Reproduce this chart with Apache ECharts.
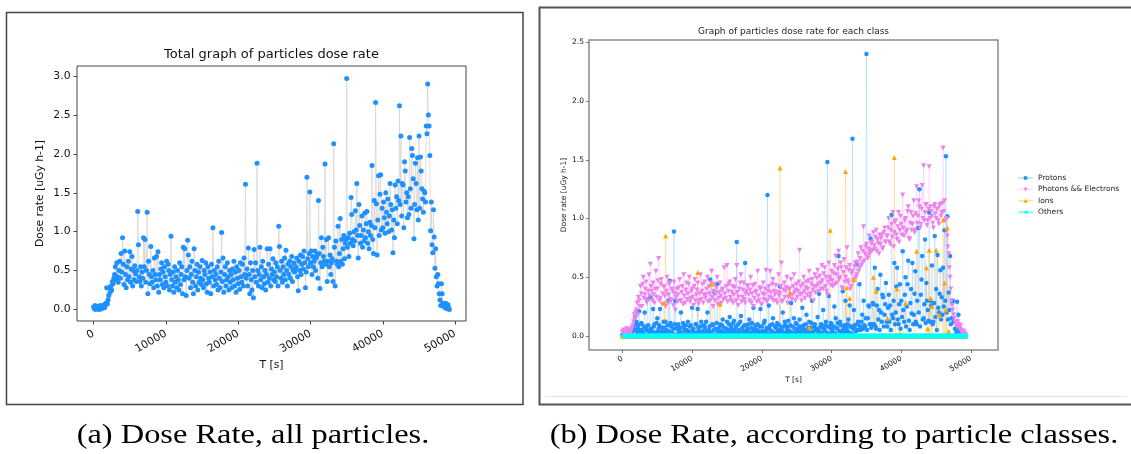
<!DOCTYPE html>
<html><head><meta charset="utf-8">
<script src="https://cdn.jsdelivr.net/npm/echarts@6.0.0/dist/echarts.min.js"></script>
<style>html,body{margin:0;padding:0;background:#fff}#c{width:1131px;height:454px}</style>
</head><body><div id="c"></div>
<script>
// ---------- data ----------
const LEFT_DT = 100;   // seconds between samples, panel (a)
const RIGHT_DT = 100;  // seconds between samples, panel (b)
const xTickValues = [0, 10000, 20000, 30000, 40000, 50000];
const yTicksLeft = [0, 0.5, 1.0, 1.5, 2.0, 2.5, 3.0];
const yTicksRight = [0, 0.5, 1.0, 1.5, 2.0, 2.5];
const titles = ['Total graph of particles dose rate', 'Graph of particles dose rate for each class'];
const captions = ['(a) Dose Rate, all particles.', '(b) Dose Rate, according to particle classes.'];
const seriesNames = ['Protons', 'Photons && Electrons', 'Ions', 'Others'];
const yName = 'Dose rate [uGy h-1]';
const xName = 'T [s]';

const totalDose = [
0.03,0.01,0.05,0.00,0.02,0.04,0.01,0.03,0.00,0.05,
0.02,0.01,0.04,0.03,0.06,0.02,0.05,0.08,0.28,0.07,
0.12,0.18,0.28,0.22,0.30,0.25,0.36,0.33,0.40,0.45,
0.55,0.38,0.60,0.42,0.35,0.50,0.62,0.40,0.72,0.48,
0.92,0.58,0.32,0.75,0.45,0.28,0.55,0.38,0.62,0.42,
0.74,0.35,0.52,0.68,0.30,0.50,0.38,0.56,0.46,0.36,
0.50,1.26,0.83,0.42,0.36,0.55,0.30,0.48,0.40,0.92,
0.55,0.90,0.35,0.50,1.25,0.20,0.62,0.45,0.33,0.81,
0.42,0.35,0.50,0.28,0.66,0.45,0.38,0.68,0.30,0.74,
0.22,0.45,0.38,0.52,0.60,0.32,0.48,0.28,0.55,0.42,
0.35,0.62,0.30,0.58,0.50,0.25,0.45,0.94,0.38,0.30,
0.48,0.22,0.55,0.35,0.42,0.28,0.50,0.38,0.25,0.60,
0.32,0.45,0.55,0.20,0.80,0.38,0.78,0.42,0.18,0.50,
0.89,0.70,0.40,0.55,0.28,0.45,0.62,0.35,0.20,0.78,
0.50,0.30,0.42,0.58,0.25,0.48,0.35,0.55,0.40,0.32,
0.63,0.38,0.28,0.50,0.45,0.60,0.33,0.22,0.55,0.40,
0.35,0.48,0.20,0.58,0.42,1.05,0.30,0.50,0.38,0.45,
0.32,0.55,0.25,0.62,0.40,0.28,0.48,0.99,0.36,0.66,
0.22,0.45,0.55,0.30,0.38,0.60,0.42,0.25,0.50,0.35,
0.45,0.28,0.52,0.38,0.62,0.30,0.48,0.22,0.55,0.40,
0.33,0.50,0.26,0.60,0.42,0.35,0.58,0.30,0.66,0.45,
1.61,0.40,0.52,0.30,0.79,0.45,0.20,0.60,0.38,0.25,
0.50,0.15,0.77,0.42,0.60,0.35,1.88,0.50,0.30,0.45,
0.80,0.38,0.55,0.28,0.62,0.42,0.33,0.50,0.25,0.45,
0.78,0.35,0.58,0.40,0.78,0.30,0.52,0.45,0.65,0.38,
0.48,0.36,0.60,0.42,0.55,0.30,1.07,0.81,0.50,0.40,
0.62,0.35,0.55,0.45,0.66,0.38,0.76,0.50,0.30,0.58,
0.45,0.62,0.40,0.55,0.68,0.36,0.50,0.60,0.48,0.52,
0.55,0.66,0.42,0.24,0.62,0.50,0.70,0.45,0.58,0.68,
0.52,0.75,0.60,0.28,0.48,1.70,0.65,0.55,0.72,1.51,
0.60,0.75,0.45,0.68,0.55,0.62,0.75,0.50,0.66,0.70,
0.40,1.40,0.72,0.27,0.60,0.92,0.55,0.80,0.68,0.62,
1.87,0.58,0.90,0.36,0.62,0.92,0.55,0.70,0.45,0.60,
0.65,0.36,2.13,0.80,0.30,0.88,0.62,0.58,1.07,0.55,
0.72,1.17,0.62,0.90,0.58,0.78,0.95,0.65,0.85,0.90,
2.97,0.80,0.92,0.68,0.98,0.85,1.44,1.22,0.90,0.82,
1.00,0.88,1.27,1.02,1.62,0.95,0.66,1.35,1.08,0.85,
0.95,1.20,0.80,1.02,0.88,1.24,0.92,1.10,1.26,0.85,
1.00,0.78,1.12,0.95,1.08,1.85,0.90,0.72,1.40,1.05,
2.66,1.36,0.70,1.15,1.72,0.95,1.48,1.73,1.02,1.30,
1.05,1.38,1.18,0.98,1.50,1.25,1.10,1.42,1.00,1.20,
1.62,1.35,1.02,1.28,0.73,1.15,0.92,1.60,1.30,1.45,
1.10,1.65,1.40,2.62,1.35,2.23,1.20,1.62,1.60,1.05,
1.90,1.78,1.38,1.50,1.18,1.45,1.22,2.21,1.55,1.30,
2.07,1.98,1.68,0.91,1.35,1.88,1.62,1.28,1.95,1.15,
2.23,1.30,1.96,1.78,1.55,1.42,1.25,1.52,1.50,1.38,
2.36,2.26,2.90,2.50,2.36,1.98,1.01,1.38,0.83,0.73,
1.28,0.93,0.53,0.78,0.42,0.30,0.45,0.33,0.20,0.12,
0.05,0.33,0.20,0.08,0.04,0.07,0.02,0.08,0.03,0.01,
0.06,0.02,0.00
];

const protons = [
0.01,0.00,0.02,0.01,0.00,0.02,0.01,0.00,0.03,0.01,0.01,0.02,0.02,0.01,0.04,0.06,0.08,0.05,0.16,0.10,
0.12,0.03,0.06,0.09,0.21,0.02,0.05,0.11,0.10,0.04,0.02,0.07,0.20,0.01,0.08,0.05,0.31,0.09,0.04,0.02,
0.33,0.06,0.05,0.02,0.23,0.08,0.10,0.03,0.02,0.11,0.15,0.04,0.06,0.09,0.23,0.01,0.03,0.07,0.04,0.12,
0.07,0.02,0.12,0.05,0.03,0.09,0.30,0.04,0.47,0.11,0.08,0.03,0.02,0.06,0.89,0.10,0.30,0.01,0.06,0.08,
0.10,0.03,0.04,0.07,0.20,0.02,0.02,0.11,0.08,0.05,0.01,0.09,0.05,0.02,0.12,0.04,0.03,0.08,0.09,0.01,
0.24,0.05,0.06,0.02,0.02,0.10,0.10,0.03,0.23,0.07,0.04,0.01,0.08,0.12,0.01,0.04,0.03,0.09,0.07,0.02,
0.12,0.04,0.20,0.02,0.05,0.08,0.48,0.03,0.02,0.10,0.09,0.05,0.37,0.01,0.06,0.11,0.44,0.04,0.03,0.07,
0.10,0.02,0.04,0.09,0.14,0.03,0.07,0.01,0.02,0.06,0.12,0.04,0.05,0.10,0.16,0.02,0.08,0.05,0.03,0.11,
0.13,0.03,0.06,0.08,0.80,0.02,0.10,0.05,0.02,0.12,0.17,0.01,0.07,0.04,0.04,0.09,0.62,0.03,0.09,0.06,
0.05,0.10,0.14,0.02,0.02,0.07,0.11,0.04,0.24,0.01,0.06,0.09,0.03,0.05,0.10,0.02,0.04,0.08,0.23,0.03,
0.08,0.04,0.02,0.11,0.13,0.03,0.05,0.07,1.20,0.02,0.26,0.06,0.09,0.01,0.04,0.10,0.15,0.03,0.02,0.08,
0.07,0.02,0.11,0.05,0.03,0.09,0.42,0.01,0.06,0.04,0.20,0.08,0.02,0.12,0.09,0.03,0.05,0.07,0.13,0.02,
0.04,0.09,0.28,0.03,0.08,0.02,0.15,0.06,0.02,0.11,0.10,0.04,0.06,0.01,0.14,0.08,0.03,0.05,0.24,0.07,
0.09,0.02,0.05,0.10,0.18,0.04,0.02,0.07,0.12,0.03,0.07,0.11,0.30,0.02,0.04,0.08,0.10,0.05,0.06,0.01,
0.16,0.04,0.36,0.07,0.03,0.10,0.08,0.02,0.22,0.06,0.05,0.09,0.12,0.03,1.48,0.08,0.34,0.02,0.07,0.11,
0.10,0.05,0.03,0.08,0.25,0.02,0.15,0.07,0.06,0.11,0.68,0.04,0.12,0.09,0.04,0.02,0.38,0.06,0.09,0.03,
0.30,0.07,0.05,0.10,0.14,0.03,0.26,0.08,0.08,0.02,1.68,0.06,0.22,0.09,0.06,0.04,0.61,0.10,0.12,0.05,
0.44,0.08,0.05,0.12,0.18,0.06,0.30,0.09,0.08,0.15,2.40,0.05,0.15,0.26,0.25,0.10,0.83,0.07,0.10,0.28,
0.27,0.10,0.58,0.08,0.06,0.26,0.40,0.14,0.22,0.05,0.52,0.20,0.12,0.35,0.33,0.08,0.18,0.27,0.45,0.12,
0.08,0.24,0.35,0.12,0.26,0.05,1.03,0.18,0.15,0.30,0.62,0.10,0.20,0.42,0.58,0.14,0.10,0.27,0.44,0.06,
0.30,0.16,0.72,0.22,0.12,0.35,0.50,0.08,0.25,0.44,0.64,0.13,0.05,0.28,0.40,0.19,0.62,0.10,0.18,0.36,
0.55,0.12,0.10,0.30,0.92,0.20,1.25,0.08,0.35,0.48,0.68,0.14,0.15,0.27,0.82,0.11,0.45,0.30,0.22,0.13,
1.05,0.12,0.30,0.26,0.60,0.10,0.12,0.28,0.85,0.16,0.40,0.05,0.69,0.24,0.20,0.36,0.56,0.14,0.33,0.18,
0.58,0.25,0.90,0.30,1.53,0.20,1.02,0.14,0.37,0.22,0.68,0.10,0.15,0.28,0.30,0.12,0.12,0.06,0.06,0.03,
0.29,0.10,0.18,0.06,0.05,0.03,0.02,0.01,0.00,0.01,0.01,0.00,0.00
];

const photonsElectrons = [
0.03,0.04,0.05,0.02,0.02,0.04,0.06,0.03,0.04,0.05,0.05,0.03,0.03,0.06,0.07,0.09,0.12,0.18,0.15,0.20,
0.22,0.28,0.18,0.33,0.30,0.25,0.42,0.36,0.25,0.44,0.50,0.32,0.35,0.40,0.46,0.28,0.30,0.38,0.52,0.34,
0.61,0.42,0.38,0.30,0.45,0.35,0.28,0.40,0.55,0.33,0.40,0.47,0.66,0.30,0.32,0.44,0.48,0.27,0.36,0.42,
0.42,0.34,0.25,0.38,0.50,0.28,0.35,0.44,0.45,0.31,0.30,0.40,0.38,0.26,0.46,0.36,0.22,0.33,0.40,0.29,
0.35,0.41,0.48,0.30,0.30,0.37,0.42,0.27,0.52,0.34,0.28,0.39,0.45,0.31,0.36,0.44,0.50,0.29,0.32,0.38,
0.40,0.33,0.26,0.42,0.48,0.30,0.35,0.39,0.45,0.27,0.30,0.36,0.52,0.31,0.38,0.44,0.28,0.35,0.46,0.32,
0.35,0.40,0.50,0.29,0.42,0.36,0.30,0.45,0.55,0.33,0.25,0.38,0.44,0.30,0.36,0.41,0.50,0.27,0.32,0.37,
0.45,0.34,0.28,0.39,0.40,0.31,0.58,0.36,0.32,0.42,0.60,0.29,0.38,0.44,0.46,0.33,0.30,0.37,0.42,0.28,
0.35,0.41,0.48,0.30,0.60,0.37,0.26,0.33,0.40,0.45,0.52,0.29,0.33,0.39,0.45,0.31,0.28,0.36,0.38,0.43,
0.42,0.35,0.30,0.39,0.50,0.28,0.36,0.43,0.25,0.32,0.44,0.37,0.38,0.29,0.55,0.34,0.30,0.41,0.40,0.27,
0.27,0.36,0.45,0.31,0.35,0.40,0.56,0.29,0.30,0.38,0.42,0.33,0.55,0.37,0.32,0.44,0.48,0.30,0.38,0.35,
0.43,0.30,0.28,0.37,0.52,0.34,0.36,0.42,0.62,0.29,0.30,0.39,0.45,0.33,0.38,0.41,0.50,0.28,0.33,0.40,
0.40,0.34,0.48,0.31,0.35,0.42,0.52,0.37,0.30,0.39,0.44,0.33,0.38,0.46,0.73,0.35,0.42,0.30,0.36,0.44,
0.50,0.38,0.32,0.41,0.46,0.35,0.40,0.47,0.55,0.33,0.36,0.44,0.48,0.39,0.30,0.42,0.52,0.37,0.42,0.49,
0.56,0.44,0.38,0.51,0.45,0.40,0.60,0.47,0.40,0.53,0.58,0.42,0.50,0.38,0.35,0.46,0.62,0.50,0.48,0.43,
0.55,0.47,0.42,0.53,0.60,0.44,0.68,0.52,0.45,0.57,0.72,0.48,0.50,0.62,0.58,0.41,0.40,0.54,0.65,0.46,
0.50,0.58,0.75,0.47,0.45,0.56,0.60,0.40,0.42,0.53,0.55,0.46,0.48,0.59,0.62,0.50,0.52,0.63,0.70,0.55,
0.58,0.66,0.75,0.60,0.62,0.72,0.93,0.64,0.70,0.76,0.78,0.68,0.66,0.74,0.85,0.70,0.72,0.79,0.80,0.73,
0.88,0.77,0.74,0.84,0.90,0.72,0.82,0.79,0.70,0.86,0.78,0.83,0.86,0.74,0.75,0.88,0.92,0.80,0.80,0.85,
0.85,0.92,1.00,0.80,0.78,0.90,0.95,0.84,1.05,0.76,0.88,0.97,0.98,0.86,0.82,0.93,1.05,0.80,0.90,1.02,
0.95,0.86,1.20,0.92,0.85,0.98,1.00,0.88,0.90,1.06,1.10,0.83,0.82,0.96,1.05,0.90,0.95,1.02,1.15,0.88,
0.90,1.04,1.27,0.96,1.02,1.15,1.10,0.92,0.95,1.08,1.28,1.00,1.45,0.98,1.05,1.12,1.12,0.94,0.98,1.08,
1.44,1.00,1.10,1.06,1.02,0.96,0.92,1.10,1.12,1.04,1.00,1.08,1.08,0.98,0.95,1.11,1.12,1.02,1.05,1.13,
1.60,1.06,1.15,0.98,1.00,0.90,0.85,0.76,0.70,0.58,0.50,0.40,0.30,0.26,0.22,0.18,0.15,0.12,0.10,0.09,
0.08,0.12,0.10,0.07,0.06,0.09,0.05,0.03,0.02,0.04,0.04,0.02,0.01
];

const ions = [
0,0,0,0,0,0,0,0,0,0,0,0,0,0,0,0,0,0,0,0,
0,0,0,0,0,0,0,0,0,0,0,0,0,0,0,0,0,0,0,0,
0,0,0,0,0,0,0,0,0,0,0,0,0,0,0,0,0,0,0,0,
0.28,0,0.85,0,0,0,0,0,0,0,0,0,0,0,0,0,0,0,0,0,
0,0,0,0,0,0,0,0,0,0,0,0,0,0,0,0,0,0,0,0,
0,0,0,0,0,0,0,0,0.54,0,0,0,0,0,0,0,0,0,0,0,
0,0,0,0,0,0,0,0,0.44,0,0,0,0,0,0,0,0,0,0,0,
0.27,0,0,0,0,0,0,0,0,0,0,0,0,0,0,0,0,0,0,0,
0,0,0,0,0,0,0,0,0,0,0,0,0,0,0,0,0,0,0,0,
0,0,0,0,0,0,0,0,0,0,0,0,0,0,0,0,0,0,0,0,
0,0,0,0,0,0,0,0,0,0,0,0,0,0,0,0,0,0,0,0,
0,0,0,0,0,0,1.43,0,0,0,0,0,0,0,0,0,0,0,0,0,
0.37,0,0,0,0,0,0,0,0,0,0,0,0,0,0,0,0,0,0,0,
0,0,0,0,0,0,0,0,0.07,0,0,0,0,0,0,0,0,0,0,0,
0,0,0,0,0,0,0,0,0,0,0,0,0,0,0,0,0,0,0.90,0,
0,0,0,0,0,0,0,0,0,0,0,0,0,0,0,0,0,0,0,0,
1.40,0,0.41,0,0,0,0.32,0,0,0,0,0,0.48,0,0,0,0,0,0,0,
0,0,0,0,0,0,0,0,0,0,0,0,0,0,0,0,0,0,0,0,
0.50,0,0,0,0.38,0,0,0,0,0,0,0,0,0,0,0,0,0,0,0,
0.15,0,0,0,0,0,0,0,0,0,1.52,0,0,0,0.40,0,0,0,0.02,0,
0,0,0,0,0,0,0.28,0,0,0,0,0,0,0,0,0,0,0,0,0,
0,0,0.72,0,0,0,0,0,0,0,0,0,0,0,0,0,0.58,0,0.06,0,
0.73,0,0.32,0,0.25,0,0,0,0,0,0.73,0,0,0,0.18,0,0,0,0,0,
0.99,0,0.45,0,0.22,0,0.92,0,0.04,0,0,0,0,0,0,0,0,0,0,0,
0,0,0,0,0,0,0,0,0,0,0,0,0
];

const others = [
0,0,0,0,0,0,0,0,0,0,0,0,0,0,0,0,0,0,0,0, 0,0,0,0,0,0,0,0,0,0,0,0,0,0,0,0,0,0,0,0,
0,0,0,0,0,0,0,0,0,0,0,0,0,0,0,0,0,0,0,0, 0,0,0,0,0,0,0,0,0,0,0,0,0,0,0,0,0,0,0,0,
0,0,0,0,0,0,0,0,0,0,0,0,0,0,0,0,0,0,0,0, 0,0,0,0,0,0,0,0,0,0,0,0,0,0,0,0,0,0,0,0,
0,0,0,0,0,0,0,0,0,0,0,0,0,0,0,0,0,0,0,0, 0,0,0,0,0,0,0,0,0,0,0,0,0,0,0,0,0,0,0,0,
0,0,0,0,0,0,0,0,0,0,0,0,0,0,0,0,0,0,0,0, 0,0,0,0,0,0,0,0,0,0,0,0,0,0,0,0,0,0,0,0,
0,0,0,0,0,0,0,0,0,0,0,0,0,0,0,0,0,0,0,0, 0,0,0,0,0,0,0,0,0,0,0,0,0,0,0,0,0,0,0,0,
0,0,0,0,0,0,0,0,0,0,0,0,0,0,0,0,0,0,0,0, 0,0,0,0,0,0,0,0,0,0,0,0,0,0,0,0,0,0,0,0,
0,0,0,0,0,0,0,0,0,0,0,0,0,0,0,0,0,0,0,0, 0,0,0,0,0,0,0,0,0,0,0,0,0,0,0,0,0,0,0,0,
0,0,0,0,0,0,0,0,0,0,0,0,0,0,0,0,0,0,0,0, 0,0,0,0,0,0,0,0,0,0,0,0,0,0,0,0,0,0,0,0,
0,0,0,0,0,0,0,0,0,0,0,0,0,0,0,0,0,0,0,0, 0,0,0,0,0,0,0,0,0,0,0,0,0,0,0,0,0,0,0,0,
0,0,0,0,0,0,0,0,0,0,0,0,0,0,0,0,0,0,0,0, 0,0,0,0,0,0,0,0,0,0,0,0,0,0,0,0,0,0,0,0,
0,0,0,0,0,0,0,0,0,0,0,0,0,0,0,0,0,0,0,0, 0,0,0,0,0,0,0,0,0,0,0,0,0,0,0,0,0,0,0,0,
0,0,0,0,0,0,0,0,0,0,0,0,0
];

// ---------- chart ----------
const FONT = 'DejaVu Sans';
function pairs(arr, dt) { return arr.map((v, i) => [i * dt, v]); }

function xAxis(gi, min, max, fs, col, lw, tl, margin) {
  return {
    type: 'value', gridIndex: gi, min: min, max: max,
    axisLine: { show: false, onZero: false }, splitLine: { show: false },
    axisTick: { show: true, length: tl, lineStyle: { color: col, width: lw }, customValues: xTickValues },
    axisLabel: { rotate: 30, margin: margin, fontSize: fs, color: '#111', fontFamily: FONT,
      customValues: xTickValues, formatter: v => String(Math.round(v)) }
  };
}
function yAxis(gi, min, max, ticks, fs, col, lw, tl, margin) {
  return {
    type: 'value', gridIndex: gi, min: min, max: max,
    axisLine: { show: false, onZero: false }, splitLine: { show: false },
    axisTick: { show: true, length: tl, lineStyle: { color: col, width: lw }, customValues: ticks },
    axisLabel: { fontSize: fs, color: '#111', fontFamily: FONT, margin: margin,
      customValues: ticks, formatter: v => Number(v).toFixed(1) }
  };
}
function lineSeries(name, data, dt, xi, symbol, rot, size, color, lineColor, lw) {
  return {
    name: name, type: 'line', xAxisIndex: xi, yAxisIndex: xi,
    data: pairs(data, dt), symbol: symbol, symbolRotate: rot, symbolSize: size,
    showSymbol: true, showAllSymbol: true,
    itemStyle: { color: color, borderWidth: 0 },
    lineStyle: { color: lineColor, width: lw },
    emphasis: { disabled: true }, silent: true, animation: false
  };
}

const chart = echarts.init(document.getElementById('c'), null, { renderer: 'canvas' });
chart.setOption({
  backgroundColor: '#fff',
  animation: false,
  title: [
    { text: titles[0], left: 271.5, top: 48.5, textAlign: 'center', padding: 0,
      textStyle: { fontFamily: FONT, fontSize: 13, fontWeight: 'normal', color: '#111' } },
    { text: titles[1], left: 793.5, top: 27.5, textAlign: 'center', padding: 0,
      textStyle: { fontFamily: FONT, fontSize: 9, fontWeight: 'normal', color: '#222' } }
  ],
  grid: [
    { left: 77, top: 66, width: 389, height: 255, show: true, borderColor: '#444', borderWidth: 1, backgroundColor: 'transparent' },
    { left: 589, top: 40, width: 409, height: 310, show: true, borderColor: '#8a8a8a', borderWidth: 1.5, backgroundColor: 'transparent' }
  ],
  xAxis: [
    xAxis(0, -2300, 51500, 10.8, '#444', 1, 3.5, 12),
    xAxis(1, -4790, 53870, 7.5, '#777', 1, 3, 8)
  ],
  yAxis: [
    yAxis(0, -0.149, 3.13, yTicksLeft, 10.8, '#444', 1, 3.5, 6.5),
    yAxis(1, -0.12, 2.52, yTicksRight, 7.5, '#777', 1, 3, 5)
  ],
  legend: {
    orient: 'vertical', left: 1017, top: 174, itemWidth: 15, itemHeight: 5, itemGap: 3.4,
    data: seriesNames, selectedMode: false, padding: 0,
    textStyle: { fontFamily: FONT, fontSize: 7.5, color: '#222' }
  },
  series: [
    lineSeries('Total', totalDose, LEFT_DT, 0, 'circle', 0, 5, '#1e90ff', '#d6d6d6', 0.8),
    lineSeries(seriesNames[0], protons, RIGHT_DT, 1, 'circle', 0, 4.5, '#1e90ff', 'rgba(30,144,255,0.22)', 0.8),
    lineSeries(seriesNames[1], photonsElectrons, RIGHT_DT, 1, 'triangle', 180, 5, '#ee82ee', 'rgba(238,130,238,0.25)', 0.8),
    lineSeries(seriesNames[2], ions, RIGHT_DT, 1, 'triangle', 0, 5, '#ffa500', 'rgba(255,165,0,0.3)', 0.8),
    lineSeries(seriesNames[3], others, RIGHT_DT, 1, 'triangle', 90, 5.5, '#00ffff', 'rgba(0,255,255,0.5)', 0.8)
  ],
  graphic: [
    { type: 'rect', shape: { x: 6.5, y: 12.5, width: 516.5, height: 392 }, style: { fill: 'none', stroke: '#444', lineWidth: 1.5 }, silent: true },
    { type: 'rect', shape: { x: 539.5, y: 7.5, width: 620, height: 397 }, style: { fill: 'none', stroke: '#555', lineWidth: 2 }, silent: true },
    { type: 'line', shape: { x1: 545, y1: 396.5, x2: 1127, y2: 396.5 }, style: { stroke: '#e2e2e2', lineWidth: 1 }, silent: true },
    { type: 'text', x: 40.5, y: 193.5, rotation: Math.PI / 2, silent: true,
      style: { text: yName, font: '10.8px "DejaVu Sans"', fill: '#111', textAlign: 'center', textVerticalAlign: 'middle' } },
    { type: 'text', x: 271.5, y: 365, silent: true,
      style: { text: xName, font: '10.8px "DejaVu Sans"', fill: '#111', textAlign: 'center', textVerticalAlign: 'middle' } },
    { type: 'text', x: 564.5, y: 195, rotation: Math.PI / 2, silent: true,
      style: { text: yName, font: '7.5px "DejaVu Sans"', fill: '#222', textAlign: 'center', textVerticalAlign: 'middle' } },
    { type: 'text', x: 793.5, y: 380, silent: true,
      style: { text: xName, font: '7.5px "DejaVu Sans"', fill: '#222', textAlign: 'center', textVerticalAlign: 'middle' } },
    { type: 'text', x: 253, y: 436, scaleX: 1.2, silent: true,
      style: { text: captions[0], font: '27px "Liberation Serif"', fill: '#000', textAlign: 'center', textVerticalAlign: 'middle' } },
    { type: 'text', x: 834, y: 436, scaleX: 1.2, silent: true,
      style: { text: captions[1], font: '27px "Liberation Serif"', fill: '#000', textAlign: 'center', textVerticalAlign: 'middle' } }
  ]
});
</script></body></html>
